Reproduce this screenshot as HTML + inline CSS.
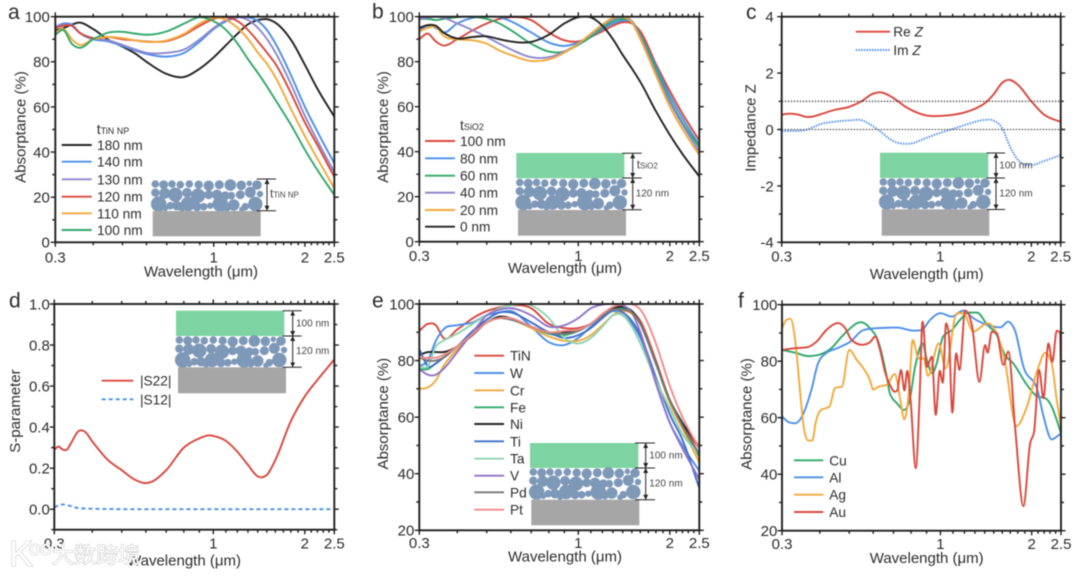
<!DOCTYPE html>
<html lang="en">
<head>
<meta charset="utf-8">
<title>Absorptance panels a-f</title>
<style>
html,body{margin:0;padding:0;background:#fff;}
#figure{display:block;width:1080px;height:576px;filter:blur(0.4px);font-family:"Liberation Sans","Noto Sans CJK SC",sans-serif;color:#333;}
#figure text{fill:#2c2c2c;}
.tick-label{font-size:15px;}
.axis-title{font-size:15px;}
.legend-text{font-size:13.7px;}
.panel-letter{font-size:21px;}
.inset-text{font-size:10px;}
#figure text.inset-text{fill:#444;}
#figure text.wm{fill:#fff;stroke:#c8c8c8;stroke-width:1.1px;paint-order:stroke;}
</style>
</head>
<body>
<svg id="figure" xmlns="http://www.w3.org/2000/svg" width="1080" height="576" viewBox="0 0 1080 576">
<defs>
<marker id="bracket-arrow" markerWidth="5" markerHeight="6" refX="4.5" refY="3" orient="auto-start-reverse" markerUnits="userSpaceOnUse"><path d="M0,0.5 L5,3 L0,5.5 Z" fill="#222"/></marker>
<symbol id="spheres" width="112" height="32" viewBox="0 0 112 32" overflow="visible">
<g fill="#7e98b8" stroke="#7e98b8" stroke-width="1">
<circle cx="3.3" cy="4" r="3.3"/><circle cx="11.7" cy="4.7" r="4"/><circle cx="20" cy="4" r="3.3"/><circle cx="28.3" cy="4.7" r="3.3"/><circle cx="37.3" cy="4" r="3.3"/><circle cx="46.7" cy="4.7" r="3.7"/><circle cx="56.7" cy="5.7" r="4.7"/><circle cx="67.3" cy="4.7" r="4"/><circle cx="78.3" cy="5" r="5.3"/><circle cx="89.3" cy="5.3" r="4.3"/><circle cx="97.3" cy="3.3" r="2.3"/><circle cx="105" cy="5" r="4.3"/>
<circle cx="3.3" cy="12.7" r="3.7"/><circle cx="12.7" cy="13.3" r="5"/><circle cx="23.3" cy="14.7" r="6.7"/><circle cx="35" cy="12.7" r="4.3"/><circle cx="46" cy="15.7" r="6.7"/><circle cx="56.7" cy="14.7" r="4"/><circle cx="65" cy="14.7" r="4.7"/><circle cx="73.3" cy="15.7" r="4"/><circle cx="79.3" cy="15.7" r="3.3"/><circle cx="88.3" cy="14.7" r="4"/><circle cx="98.3" cy="12.3" r="5"/><circle cx="108" cy="14" r="2.7"/>
<circle cx="6.7" cy="24" r="7.3"/><circle cx="18.3" cy="25.7" r="3.3"/><circle cx="25" cy="25.7" r="4.3"/><circle cx="36" cy="24" r="6.7"/><circle cx="45" cy="26.7" r="4"/><circle cx="51.7" cy="26.7" r="3.3"/><circle cx="58.3" cy="25.7" r="2.7"/><circle cx="68.3" cy="24" r="7.3"/><circle cx="81.7" cy="25" r="5.3"/><circle cx="93.3" cy="26.7" r="3.3"/><circle cx="103.3" cy="24" r="6.7"/><circle cx="13.3" cy="28.3" r="2.3"/><circle cx="30" cy="29.3" r="2.3"/><circle cx="75" cy="28.3" r="2.7"/><circle cx="90" cy="29.3" r="2.3"/>
</g>
</symbol>
</defs>

<g id="plots"></g>

<!-- panel letters -->
<text class="panel-letter" x="8" y="19">a</text>
<text class="panel-letter" x="372" y="18.5">b</text>
<text class="panel-letter" x="746" y="19">c</text>
<text class="panel-letter" x="9" y="307.3">d</text>
<text class="panel-letter" x="372" y="307.3">e</text>
<text class="panel-letter" x="738" y="307.3">f</text>

<!-- axis titles -->
<text class="axis-title" text-anchor="middle" x="201" y="276.7">Wavelength (μm)</text>
<text class="axis-title" text-anchor="middle" x="565" y="273">Wavelength (μm)</text>
<text class="axis-title" text-anchor="middle" x="926.7" y="279">Wavelength (μm)</text>
<text class="axis-title" text-anchor="middle" x="184" y="565.7">Wavelength (μm)</text>
<text class="axis-title" text-anchor="middle" x="565" y="561.3">Wavelength (μm)</text>
<text class="axis-title" text-anchor="middle" x="926.7" y="563">Wavelength (μm)</text>
<text class="axis-title" text-anchor="middle" transform="translate(25.5,127) rotate(-90)">Absorptance (%)</text>
<text class="axis-title" text-anchor="middle" transform="translate(388,127) rotate(-90)">Absorptance (%)</text>
<text class="axis-title" text-anchor="middle" transform="translate(755.5,128) rotate(-90)">Impedance Z</text>
<text class="axis-title" text-anchor="middle" transform="translate(20,411) rotate(-90)">S-parameter</text>
<text class="axis-title" text-anchor="middle" transform="translate(388,413.7) rotate(-90)">Absorptance (%)</text>
<text class="axis-title" text-anchor="middle" transform="translate(751.5,414) rotate(-90)">Absorptance (%)</text>

<!-- inset a -->
<g>
<use href="#spheres" x="152" y="180"/>
<rect x="152.7" y="211" width="108" height="25.3" fill="#a6a6a6"/>
<g stroke="#222" stroke-width="1">
<line x1="256.7" x2="276" y1="179" y2="179"/><line x1="256.7" x2="276" y1="210.7" y2="210.7"/>
<line x1="267" x2="267" y1="179.5" y2="210.2" marker-start="url(#bracket-arrow)" marker-end="url(#bracket-arrow)"/>
</g>
<text class="inset-text" x="270" y="197.5"><tspan font-size="12">t</tspan><tspan font-size="8">TiN NP</tspan></text>
</g>

<!-- inset b -->
<g>
<rect x="516.3" y="153" width="108" height="25.3" fill="#7dd3a1"/>
<use href="#spheres" x="516.5" y="178.5"/>
<rect x="518" y="210" width="108" height="25.7" fill="#a6a6a6"/>
<g stroke="#222" stroke-width="1">
<line x1="622.3" x2="641.7" y1="153.3" y2="153.3"/><line x1="622.3" x2="641.7" y1="178" y2="178"/><line x1="622.3" x2="641.7" y1="209.7" y2="209.7"/>
<line x1="632.7" x2="632.7" y1="153.8" y2="177.5" marker-start="url(#bracket-arrow)" marker-end="url(#bracket-arrow)"/>
<line x1="632.7" x2="632.7" y1="178.5" y2="209.2" marker-start="url(#bracket-arrow)" marker-end="url(#bracket-arrow)"/>
</g>
<text class="inset-text" x="636.7" y="168.5"><tspan font-size="12">t</tspan><tspan font-size="8">SiO2</tspan></text>
<text class="inset-text" x="635.7" y="196.7">120 nm</text>
</g>

<!-- inset c -->
<g>
<rect x="880" y="152.7" width="108.3" height="25.3" fill="#7dd3a1"/>
<use href="#spheres" x="880" y="178"/>
<rect x="881.7" y="209.3" width="107.6" height="26.4" fill="#a6a6a6"/>
<g stroke="#222" stroke-width="1">
<line x1="986.7" x2="1005" y1="153" y2="153"/><line x1="986.7" x2="1005" y1="178" y2="178"/><line x1="986.7" x2="1005" y1="209.5" y2="209.5"/>
<line x1="996" x2="996" y1="153.5" y2="177.5" marker-start="url(#bracket-arrow)" marker-end="url(#bracket-arrow)"/>
<line x1="996" x2="996" y1="178.5" y2="209" marker-start="url(#bracket-arrow)" marker-end="url(#bracket-arrow)"/>
</g>
<text class="inset-text" x="999.3" y="168.3">100 nm</text>
<text class="inset-text" x="999.3" y="196.7">120 nm</text>
</g>

<!-- inset d -->
<g>
<rect x="176" y="310.7" width="108.3" height="25.3" fill="#7dd3a1"/>
<use href="#spheres" x="176" y="336"/>
<rect x="178" y="367.3" width="108" height="26" fill="#a6a6a6"/>
<g stroke="#222" stroke-width="1">
<line x1="282.7" x2="301.7" y1="310.7" y2="310.7"/><line x1="282.7" x2="301.7" y1="336" y2="336"/><line x1="282.7" x2="301.7" y1="367.3" y2="367.3"/>
<line x1="292.7" x2="292.7" y1="311.2" y2="335.5" marker-start="url(#bracket-arrow)" marker-end="url(#bracket-arrow)"/>
<line x1="292.7" x2="292.7" y1="336.5" y2="366.8" marker-start="url(#bracket-arrow)" marker-end="url(#bracket-arrow)"/>
</g>
<text class="inset-text" x="296" y="326.3">100 nm</text>
<text class="inset-text" x="296" y="354">120 nm</text>
</g>

<!-- inset e -->
<g>
<rect x="530" y="443" width="108.3" height="25" fill="#7dd3a1"/>
<use href="#spheres" x="530" y="468"/>
<rect x="531.3" y="499.7" width="108" height="25.6" fill="#a6a6a6"/>
<g stroke="#222" stroke-width="1">
<line x1="635" x2="655" y1="443" y2="443"/><line x1="635" x2="655" y1="468" y2="468"/><line x1="635" x2="655" y1="499.7" y2="499.7"/>
<line x1="645.7" x2="645.7" y1="443.5" y2="467.5" marker-start="url(#bracket-arrow)" marker-end="url(#bracket-arrow)"/>
<line x1="645.7" x2="645.7" y1="468.5" y2="499.2" marker-start="url(#bracket-arrow)" marker-end="url(#bracket-arrow)"/>
</g>
<text class="inset-text" x="649.3" y="458.7">100 nm</text>
<text class="inset-text" x="649.3" y="486.3">120 nm</text>
</g>

<!-- legends -->
<g stroke-width="1.9">
<text class="legend-text" x="96.7" y="134"><tspan font-size="14">t</tspan><tspan font-size="9">TiN NP</tspan></text>
<line x1="61.7" x2="91.7" y1="145" y2="145" stroke="#222"/><text class="legend-text" x="97" y="150">180 nm</text>
<line x1="61.7" x2="91.7" y1="161.7" y2="161.7" stroke="#4d8fe8"/><text class="legend-text" x="97" y="166.7">140 nm</text>
<line x1="61.7" x2="91.7" y1="179.3" y2="179.3" stroke="#8f85cc"/><text class="legend-text" x="97" y="184.3">130 nm</text>
<line x1="61.7" x2="91.7" y1="196.7" y2="196.7" stroke="#d9473c"/><text class="legend-text" x="97" y="201.7">120 nm</text>
<line x1="61.7" x2="91.7" y1="213.3" y2="213.3" stroke="#f2a93b"/><text class="legend-text" x="97" y="218.3">110 nm</text>
<line x1="61.7" x2="91.7" y1="230" y2="230" stroke="#2fa86a"/><text class="legend-text" x="97" y="235">100 nm</text>
</g>
<g stroke-width="1.9">
<text class="legend-text" x="460" y="130"><tspan font-size="14">t</tspan><tspan font-size="9">SiO2</tspan></text>
<line x1="425" x2="455" y1="141" y2="141" stroke="#d9473c"/><text class="legend-text" x="460" y="146">100 nm</text>
<line x1="425" x2="455" y1="158.3" y2="158.3" stroke="#4d8fe8"/><text class="legend-text" x="460" y="163.3">80 nm</text>
<line x1="425" x2="455" y1="175.7" y2="175.7" stroke="#2fa86a"/><text class="legend-text" x="460" y="180.7">60 nm</text>
<line x1="425" x2="455" y1="192.7" y2="192.7" stroke="#8f7fc9"/><text class="legend-text" x="460" y="197.7">40 nm</text>
<line x1="425" x2="455" y1="210" y2="210" stroke="#f2a93b"/><text class="legend-text" x="460" y="215">20 nm</text>
<line x1="425" x2="455" y1="226.7" y2="226.7" stroke="#222"/><text class="legend-text" x="460" y="231.7">0 nm</text>
</g>
<g stroke-width="1.9">
<line x1="855.7" x2="890" y1="31.7" y2="31.7" stroke="#d9473c"/><text class="legend-text" x="893.3" y="36.7">Re <tspan font-style="italic">Z</tspan></text>
<line x1="855.7" x2="890" y1="50" y2="50" stroke="#4d8fe8" stroke-dasharray="1.5 1.2"/><text class="legend-text" x="893.3" y="55">Im <tspan font-style="italic">Z</tspan></text>
</g>
<g stroke-width="1.9">
<line x1="101.7" x2="133.3" y1="380.7" y2="380.7" stroke="#d9473c"/><text class="legend-text" x="140" y="385.7">|S22|</text>
<line x1="101.7" x2="133.3" y1="399.3" y2="399.3" stroke="#4d8fe8" stroke-dasharray="4 3"/><text class="legend-text" x="140" y="404.3">|S12|</text>
</g>
<g stroke-width="1.9">
<line x1="474.3" x2="504" y1="355.7" y2="355.7" stroke="#d9473c"/><text class="legend-text" x="510" y="360.7">TiN</text>
<line x1="474.3" x2="504" y1="373" y2="373" stroke="#4d8fe8"/><text class="legend-text" x="510" y="378">W</text>
<line x1="474.3" x2="504" y1="390.3" y2="390.3" stroke="#f2a93b"/><text class="legend-text" x="510" y="395.3">Cr</text>
<line x1="474.3" x2="504" y1="407.3" y2="407.3" stroke="#2fa86a"/><text class="legend-text" x="510" y="412.3">Fe</text>
<line x1="474.3" x2="504" y1="424" y2="424" stroke="#222"/><text class="legend-text" x="510" y="429">Ni</text>
<line x1="474.3" x2="504" y1="441.3" y2="441.3" stroke="#3f6fc9"/><text class="legend-text" x="510" y="446.3">Ti</text>
<line x1="474.3" x2="504" y1="458.7" y2="458.7" stroke="#8fd3b0"/><text class="legend-text" x="510" y="463.7">Ta</text>
<line x1="474.3" x2="504" y1="475.7" y2="475.7" stroke="#8e73c9"/><text class="legend-text" x="510" y="480.7">V</text>
<line x1="474.3" x2="504" y1="492.3" y2="492.3" stroke="#777"/><text class="legend-text" x="510" y="497.3">Pd</text>
<line x1="474.3" x2="504" y1="509.7" y2="509.7" stroke="#f08a8a"/><text class="legend-text" x="510" y="514.7">Pt</text>
</g>
<g stroke-width="1.9">
<line x1="794" x2="823.3" y1="460.3" y2="460.3" stroke="#2fa86a"/><text class="legend-text" x="829.3" y="465.3">Cu</text>
<line x1="794" x2="823.3" y1="477.3" y2="477.3" stroke="#4d8fe8"/><text class="legend-text" x="829.3" y="482.3">Al</text>
<line x1="794" x2="823.3" y1="494.7" y2="494.7" stroke="#f2a93b"/><text class="legend-text" x="829.3" y="499.7">Ag</text>
<line x1="794" x2="823.3" y1="512" y2="512" stroke="#d9473c"/><text class="legend-text" x="829.3" y="517">Au</text>
</g>

<!-- watermark -->
<g>
<text class="wm" x="9" y="566" font-size="36">K</text>
<text class="wm" x="29" y="555" font-size="20">oo</text>
<text class="wm" x="52" y="563" font-size="22">大数跨境</text>
</g>

<script>
/* ---- shared axis data ---- */
const xMajorTicks = [0.3, 1, 2, 2.5];
const xMajorLabels = ["0.3", "1", "2", "2.5"];
const xMinorTicks = [0.4,0.5,0.6,0.7,0.8,0.9,1.1,1.2,1.3,1.4,1.5,1.6,1.7,1.8,1.9,2.1,2.2,2.3,2.4];
const absYMajor = [0,20,40,60,80,100];
const absYLabels = ["0","20","40","60","80","100"];
const absYMinor = [10,30,50,70,90];
const impYMajor = [-4,-2,0,2,4];
const impYLabels = ["-4","-2","0","2","4"];
const impYMinor = [-3,-1,1,3];
const sYMajor = [0,0.2,0.4,0.6,0.8,1.0];
const sYLabels = ["0.0","0.2","0.4","0.6","0.8","1.0"];
const sYMinor = [-0.1,0.1,0.3,0.5,0.7,0.9];
const metalYMajor = [20,40,60,80,100];
const metalYLabels = ["20","40","60","80","100"];
const metalYMinor = [30,50,70,90];

/* wavelength grid (µm) used by panels a, b, e */
const wavelengthGrid = [0.3,0.32,0.34,0.36,0.4,0.45,0.5,0.55,0.6,0.7,0.8,0.9,1,1.1,1.2,1.3,1.4,1.5,1.6,1.8,2,2.2,2.5];

/* panel a: TiN NP thickness */
const a180 = [94,95,96.5,97.4,94.5,89.7,86.7,83.7,80,74.6,73.3,77,82,87.5,92.5,96.7,98.5,98.9,97.3,89.7,78.6,68,55.7];
const a140 = [95.5,97,96.5,93,90,89,87,85,83.5,82.3,84,89,94.5,98,99.7,99.8,98,94,88,74,60,49,35];
const a130 = [95.5,96.5,96,93,90.5,89.5,87.5,85.5,84,84,85.5,90,95,98.5,99.8,98.5,95,90,84,70,56,45,31];
const a120 = [95,96,96,93,90.5,91,90,89.5,89,89.2,92,96,99,99.8,98,94,89,84,79,66,53,43,29];
const a110 = [93,94.5,90,87.5,90,91,90.5,89.5,88.8,89.5,92.5,97,99.5,98.5,95,90,84,79,73,59,47,37,24];
const a100 = [92,94,88,86.2,90,93,93.3,92.5,92,93.5,97,99.8,98,94,88,81,75,69,63,52,41,32,21];

/* panel b: SiO2 thickness */
const b100 = [90,92.5,89,87.2,90,94,97,99,99.8,98.5,93,89.5,89,91,93.5,96,97.5,97,93.5,79,67,57,45];
const b80 = [94,96,95,93,97,99.5,100,99.8,98,93,88.5,87,88.5,91,94.5,97,98.3,97.5,92,78,65,55,43];
const b60 = [99,99,98.5,99,99.8,100,99,97,94,88,84.5,84.5,87.5,91,95,98,99,98,92,77,63,53,42];
const b40 = [99,99.5,100,99.5,97,94,91,88,85.5,82,82,84.5,88,92,96,99,99.8,98,91,75,62,52,40];
const b20 = [93.5,95,95.5,91.5,90,89.5,88,85,83,80.3,81,84,88,92.5,96.5,99.5,99.8,97.5,90,74,60,50,38.5];
const b0 = [95,96.3,96,93,90.3,91,91.3,90,89,88.8,92,97,99.8,99.7,96,90,83,77,71,58,47.5,39,29];

/* panel c: impedance */
const cWavelength = [0.3,0.32,0.34,0.36,0.38,0.4,0.45,0.5,0.55,0.6,0.633,0.7,0.77,0.8,0.9,1,1.1,1.2,1.3,1.4,1.5,1.6,1.7,1.8,2,2.2,2.5];
const reZ = [0.53,0.56,0.53,0.45,0.46,0.53,0.7,0.8,1.0,1.27,1.32,1.12,0.8,0.7,0.5,0.48,0.52,0.6,0.73,0.92,1.24,1.65,1.76,1.6,1.0,0.53,0.27];
const imZ = [-0.05,-0.05,-0.05,-0.02,0.08,0.18,0.28,0.32,0.33,0.12,-0.06,-0.41,-0.51,-0.5,-0.3,-0.12,0.02,0.15,0.27,0.34,0.32,0.06,-0.6,-1.06,-1.26,-1.12,-0.91];
const refLevels = [1, 0];

/* panel d: S-parameters */
const dWavelength = [0.3,0.31,0.32,0.33,0.34,0.36,0.38,0.4,0.45,0.5,0.55,0.6,0.63,0.7,0.8,0.9,0.97,1,1.1,1.2,1.3,1.4,1.45,1.5,1.6,1.8,2,2.2,2.5];
const s22 = [0.29,0.305,0.29,0.29,0.32,0.38,0.375,0.33,0.24,0.19,0.145,0.127,0.135,0.19,0.3,0.345,0.36,0.357,0.333,0.28,0.216,0.16,0.156,0.167,0.24,0.43,0.55,0.63,0.73];
const s12 = [0.01,0.018,0.023,0.02,0.015,0.005,0.003,0.002,0.001,0,0,0,0,0,0,0,0,0,0,0,0,0,0,0,0,0,0,0,0];

/* panel e: bottom metal */
const eTiN = [90.5,93,92.5,88,91,95,97.5,98.8,99.5,98.5,93,91.5,91.5,93,96,98.5,99,97.5,94,80,66,57,49];
const eW = [78,80,87,91,92.5,93.5,96,97,97.5,92,86.5,85.5,88,92,95,97.5,96,93,88,72,58,50,41];
const eCr = [70,70.5,73,78,84,90,93.5,95,94.5,91.5,88.5,87,87,89,92.5,96,97.5,96.5,93,79,65,56,44];
const eFe = [77,77,79,81,85,90,93.5,95,94.5,92,89.5,89,90.5,93,96,98,98.5,97.5,93,79,66,57,46];
const eNi = [82,83,83,83,85,90,93.5,95.5,95,92,90,90,91,93,96,98.5,99,97.5,93,79,66,58,49.5];
const eTi = [84,78,79,81,85,90.5,94.5,97,97,93.5,90,88,89,91.5,95,98,97,94,89,74,61,52,35];
const eTa = [78,78,85,87,89.5,93,96,98.5,99.5,99.5,95,88,86,88,92,96,96,92,86,73,63,54,47];
const eV = [77,75,75,77,83,90,96,98,98.5,96,92,92.5,95,98.5,99.8,100,99.5,97,90,72,58,49,38];
const ePd = [81,80,80,81,85,89,93.5,95,94.5,92,90,89.5,90.5,93,96,98,98,97,93,79,66,57,47];
const ePt = [81,81,81,82,85,89.5,93.5,95,95,92,90,90.5,91,93,96.5,99,100,100,98,86,71,60,49];

/* panel f: noble metals, each with its own sampling */
const cuWavelength = [0.3,0.332,0.366,0.395,0.436,0.478,0.547,0.585,0.624,0.665,0.681,0.72,0.757,0.786,0.825,0.873,0.902,0.94,0.972,1.02,1.09,1.16,1.238,1.32,1.43,1.533,1.633,1.74,1.93,2.09,2.22,2.33,2.42,2.5];
const cuValues = [84,83,81.8,82.2,84.6,89.3,93.8,91.7,86.9,74.5,68.6,65,62.7,65,78,86.3,80.4,75.7,79.2,88.7,91,94.6,97.2,97.2,92.8,89.3,82.2,79.2,71.6,67.5,66.9,63.9,59.2,54.5];
const alWavelength = [0.3,0.316,0.332,0.349,0.375,0.395,0.42,0.456,0.504,0.556,0.615,0.72,0.816,0.866,0.924,1.0,1.09,1.19,1.285,1.43,1.58,1.67,1.76,1.88,2.09,2.19,2.33,2.42,2.5];
const alValues = [60.4,58.4,58,60.4,69.8,79.4,82.9,84.6,86.9,91,91.7,91.9,90.8,91,94.6,97,95.8,97.9,95.2,92.8,92,94,91,78,69.8,60.4,52.3,53.3,54.5];
const agWavelength = [0.3,0.31,0.32,0.332,0.343,0.355,0.366,0.378,0.387,0.403,0.43,0.449,0.473,0.5,0.53,0.556,0.585,0.6,0.625,0.664,0.707,0.737,0.76,0.786,0.81,0.847,0.88,0.91,0.987,1.04,1.133,1.19,1.285,1.43,1.533,1.633,1.78,1.93,2.09,2.22,2.33,2.42,2.5];
const agValues = [91.6,94.6,95,86.9,71,55.6,51.9,51.9,58,62.7,63.9,70.5,71,84,80.4,77.6,73.4,70,71,71.6,75.5,66.3,59.4,68.6,87.5,81,81,74.8,86.3,77.5,97,97,90.5,93.4,89.9,79.8,57,64,76.9,83,79.2,66.3,56.8];
const auWavelength = [0.3,0.332,0.362,0.39,0.42,0.459,0.485,0.509,0.551,0.585,0.609,0.632,0.656,0.681,0.707,0.72,0.741,0.761,0.777,0.797,0.829,0.853,0.873,0.902,0.937,0.965,0.995,1.018,1.044,1.065,1.095,1.127,1.156,1.207,1.27,1.345,1.404,1.432,1.476,1.533,1.613,1.676,1.763,1.879,1.977,2.037,2.117,2.187,2.272,2.342,2.42,2.483,2.5];
const auValues = [84,84.6,84.9,86.9,91,93.5,91.7,87.5,85.8,86.7,88.7,84,76.3,71.6,69.2,69.6,76.9,69.6,76.6,66.3,42.1,66.3,94,78,81.6,61,76.6,72.4,93.4,89.9,61.8,82.8,76.9,97.9,92.8,72.7,85.7,83,90.4,90,78.7,83.4,56.8,28.7,50.9,55,76.9,66.9,86.3,79.8,90.8,89.9,72];

const NS = "http://www.w3.org/2000/svg";
const root = document.getElementById("plots");
const X_MIN = 0.3, X_MAX = 2.5;

function make(parent, tag, props) {
  const node = document.createElementNS(NS, tag);
  for (const key in props) node.setAttribute(key, props[key]);
  parent.appendChild(node);
  return node;
}
function xScale(box) {
  return v => box.left + (Math.log(v / X_MIN) / Math.log(X_MAX / X_MIN)) * (box.right - box.left);
}
function yScale(box) {
  return v => box.bottom - (v - box.yMin) / (box.yMax - box.yMin) * (box.bottom - box.top);
}
/* cubic path through screen points; smooth mode uses central-difference tangents,
   otherwise monotone tangents which keep sharp peaks from overshooting */
function curvePath(px, py, smooth) {
  const n = px.length, slope = new Array(n).fill(0);
  const sgn = v => (v < 0 ? -1 : 1);
  for (let i = 1; i < n - 1; i++) {
    const h0 = px[i] - px[i-1], h1 = px[i+1] - px[i];
    const s0 = (py[i] - py[i-1]) / h0, s1 = (py[i+1] - py[i]) / h1;
    const p = (s0 * h1 + s1 * h0) / (h0 + h1);
    slope[i] = smooth ? p : (sgn(s0) + sgn(s1)) * Math.min(Math.abs(s0), Math.abs(s1), 0.5 * Math.abs(p));
  }
  slope[0] = (py[1] - py[0]) / (px[1] - px[0]);
  slope[n-1] = (py[n-1] - py[n-2]) / (px[n-1] - px[n-2]);
  let d = "M" + px[0].toFixed(2) + "," + py[0].toFixed(2);
  for (let i = 0; i < n - 1; i++) {
    const dx = (px[i+1] - px[i]) / 3;
    d += "C" + (px[i] + dx).toFixed(2) + "," + (py[i] + dx * slope[i]).toFixed(2) + " " +
         (px[i+1] - dx).toFixed(2) + "," + (py[i+1] - dx * slope[i+1]).toFixed(2) + " " +
         px[i+1].toFixed(2) + "," + py[i+1].toFixed(2);
  }
  return d;
}

function drawPanel(id, box, yMajor, yLabels, yMinor, seriesList) {
  const g = make(root, "g", {});
  
  
  const xs = xScale(box), ys = yScale(box);
  const clipId = "clip-" + id;
  const clip = make(g, "clipPath", { id: clipId });
  make(clip, "rect", { x: box.left - 1, y: box.top - 1, width: box.right - box.left + 2, height: box.bottom - box.top + 2 });

  /* series */
  seriesList.forEach(s => {
    const px = s.x.map(xs), py = s.y.map(ys);
    const line = make(g, "path", {
      d: curvePath(px, py, box.smooth), fill: "none", stroke: s.color, "stroke-width": s.width || 1.9,
      "stroke-linejoin": "round", "clip-path": "url(#" + clipId + ")"
    });
    if (s.dash) line.setAttribute("stroke-dasharray", s.dash);
    
    
  });

  /* frame */
  const frame = make(g, "rect", {
    x: box.left, y: box.top, width: box.right - box.left, height: box.bottom - box.top,
    fill: "none", stroke: "#1e1e1e", "stroke-width": 1.9
  });
  
  

  /* x ticks on top and bottom */
  const addX = (v, len) => {
    const t = make(g, "path", {
      d: "M" + xs(v).toFixed(2) + "," + box.bottom + "v" + len + "M" + xs(v).toFixed(2) + "," + box.top + "v" + (-len),
      stroke: "#1e1e1e", "stroke-width": 1.4, fill: "none"
    });
    
    
  };
  xMajorTicks.forEach(v => addX(v, 4.5));
  xMinorTicks.forEach(v => addX(v, 3));
  xMajorTicks.forEach((v, i) => {
    const label = make(g, "text", { class: "tick-label", x: xs(v), y: box.xLabelY, "text-anchor": "middle" });
    label.textContent = xMajorLabels[i];
    
    
  });

  /* y ticks on left and right */
  const addY = (v, len) => {
    const t = make(g, "path", {
      d: "M" + box.left + "," + ys(v).toFixed(2) + "h" + (-len) + "M" + box.right + "," + ys(v).toFixed(2) + "h" + len,
      stroke: "#1e1e1e", "stroke-width": 1.4, fill: "none"
    });
    
    
  };
  yMajor.forEach(v => addY(v, 4.5));
  yMinor.forEach(v => addY(v, 3));
  yMajor.forEach((v, i) => {
    const label = make(g, "text", { class: "tick-label", x: box.left - box.yLabelGap, y: ys(v) + 5.4, "text-anchor": "end" });
    label.textContent = yLabels[i];
    
    
  });
  return { xs, ys, g };
}

const RED = "#d9473c", BLUE = "#4d8fe8", ORANGE = "#f2a93b", GREEN = "#2fa86a", PURPLE = "#8f85cc", BLACK = "#222";

drawPanel("a", { left: 55.3, right: 334.3, top: 16.7, bottom: 242.3, yMin: 0, yMax: 100, xLabelY: 262.3, yLabelGap: 5.5, smooth: true },
  absYMajor, absYLabels, absYMinor, [
  { name: "180nm", x: wavelengthGrid, y: a180, color: BLACK },
  { name: "140nm", x: wavelengthGrid, y: a140, color: BLUE },
  { name: "130nm", x: wavelengthGrid, y: a130, color: PURPLE },
  { name: "120nm", x: wavelengthGrid, y: a120, color: RED },
  { name: "110nm", x: wavelengthGrid, y: a110, color: ORANGE },
  { name: "100nm", x: wavelengthGrid, y: a100, color: GREEN }
]);

drawPanel("b", { left: 419.3, right: 699.3, top: 16.7, bottom: 241.7, yMin: 0, yMax: 100, xLabelY: 261, yLabelGap: 5.5, smooth: true },
  absYMajor, absYLabels, absYMinor, [
  { name: "100nm", x: wavelengthGrid, y: b100, color: RED },
  { name: "80nm", x: wavelengthGrid, y: b80, color: BLUE },
  { name: "60nm", x: wavelengthGrid, y: b60, color: GREEN },
  { name: "40nm", x: wavelengthGrid, y: b40, color: PURPLE },
  { name: "20nm", x: wavelengthGrid, y: b20, color: ORANGE },
  { name: "0nm", x: wavelengthGrid, y: b0, color: BLACK }
]);

const panelC = drawPanel("c", { left: 781.7, right: 1060.7, top: 16.7, bottom: 242.3, yMin: -4, yMax: 4, xLabelY: 261.7, yLabelGap: 8, smooth: true },
  impYMajor, impYLabels, impYMinor, [
  { name: "re-z", x: cWavelength, y: reZ, color: RED },
  { name: "im-z", x: cWavelength, y: imZ, color: BLUE, dash: "1.5 1.2" }
]);
refLevels.forEach(level => {
  const ref = make(panelC.g, "line", {
    x1: panelC.xs(X_MIN), x2: panelC.xs(X_MAX), y1: panelC.ys(level), y2: panelC.ys(level),
    stroke: "#333", "stroke-width": 1.1, "stroke-dasharray": "1.5 1.5"
  });
  
  
});

drawPanel("d", { left: 54.3, right: 334.3, top: 304, bottom: 529.7, yMin: -0.1, yMax: 1.0, xLabelY: 548.7, yLabelGap: 4.5, smooth: true },
  sYMajor, sYLabels, sYMinor, [
  { name: "s22", x: dWavelength, y: s22, color: RED },
  { name: "s12", x: dWavelength, y: s12, color: BLUE, dash: "4 3" }
]);

drawPanel("e", { left: 419.3, right: 699.3, top: 304, bottom: 530.3, yMin: 20, yMax: 100, xLabelY: 548, yLabelGap: 5, smooth: true },
  metalYMajor, metalYLabels, metalYMinor, [
  { name: "tin", x: wavelengthGrid, y: eTiN, color: RED },
  { name: "w", x: wavelengthGrid, y: eW, color: BLUE },
  { name: "cr", x: wavelengthGrid, y: eCr, color: ORANGE },
  { name: "fe", x: wavelengthGrid, y: eFe, color: GREEN },
  { name: "ni", x: wavelengthGrid, y: eNi, color: BLACK },
  { name: "ti", x: wavelengthGrid, y: eTi, color: "#3f6fc9" },
  { name: "ta", x: wavelengthGrid, y: eTa, color: "#8fd3b0" },
  { name: "v", x: wavelengthGrid, y: eV, color: "#8e73c9" },
  { name: "pd", x: wavelengthGrid, y: ePd, color: "#777" },
  { name: "pt", x: wavelengthGrid, y: ePt, color: "#f08a8a" }
]);

drawPanel("f", { left: 782, right: 1061, top: 304.7, bottom: 530.7, yMin: 20, yMax: 100, xLabelY: 549, yLabelGap: 4.7, smooth: false },
  metalYMajor, metalYLabels, metalYMinor, [
  { name: "cu", x: cuWavelength, y: cuValues, color: GREEN },
  { name: "al", x: alWavelength, y: alValues, color: BLUE },
  { name: "ag", x: agWavelength, y: agValues, color: ORANGE },
  { name: "au", x: auWavelength, y: auValues, color: RED }
]);
</script>
</svg>
</body>
</html>
